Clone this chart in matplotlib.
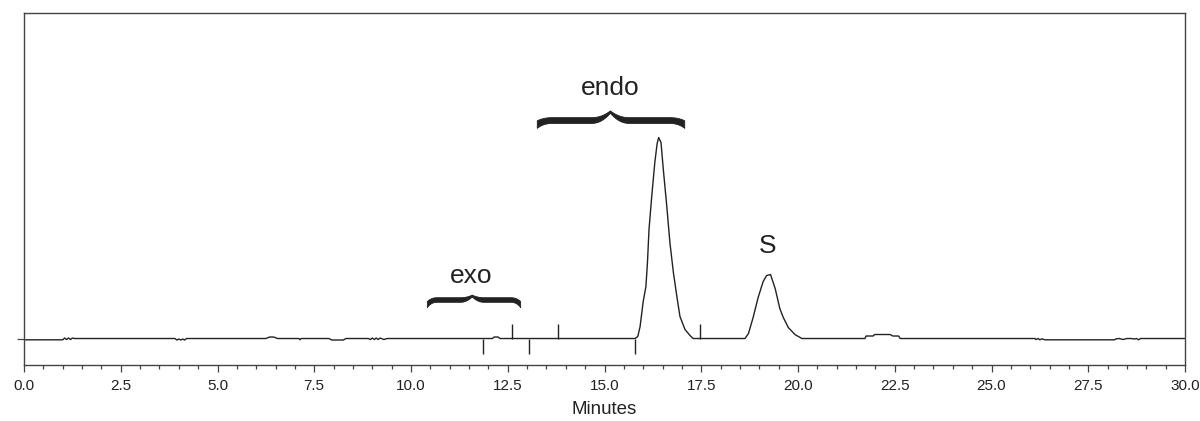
import numpy as np
import matplotlib
matplotlib.use("Agg")
import matplotlib.pyplot as plt
from matplotlib.ticker import MultipleLocator, FixedLocator

plt.rcParams["font.family"] = ["Liberation Sans", "DejaVu Sans"]

# chromatogram trace (minutes, signal above baseline)
time_min = [
    0.0, 1.0, 1.05, 1.1, 1.15, 1.2, 1.25, 1.3,
    3.9, 3.95, 4.0, 4.05, 4.1, 4.15, 4.2,
    6.25, 6.35, 6.45, 6.55,
    7.1, 7.13, 7.16,
    7.88, 7.95, 8.25, 8.32,
    8.9, 8.95, 9.0, 9.05, 9.1, 9.15, 9.2, 9.3, 9.38,
    12.1, 12.15, 12.25, 12.3,
    15.79, 15.86, 15.92, 16.00, 16.07, 16.11, 16.15, 16.22, 16.30, 16.36, 16.40,
    16.46, 16.52, 16.61, 16.69, 16.78, 16.87, 16.95, 17.08, 17.21, 17.29,
    18.63, 18.72, 18.84, 18.97, 19.10, 19.19, 19.29, 19.41, 19.53, 19.62,
    19.75, 19.92, 20.10,
    21.73, 21.76, 21.94, 21.98, 22.38, 22.45, 22.6, 22.64,
    26.12, 26.15, 26.2, 26.25, 26.3, 26.38, 28.18, 28.22, 28.3, 28.4, 28.5,
    28.6, 28.7, 28.75, 28.8, 28.85, 30.0,
]
signal = [
    -1.3, -1.3, 0.5, -1.0, 0.5, -1.0, 0.5, 0.0,
    0.0, -1.5, -0.5, -1.5, -0.5, -1.5, 0.0,
    0.0, 1.5, 1.5, 0.0,
    0.0, -1.2, 0.0,
    0.0, -1.5, -1.5, 0.0,
    0.0, -1.0, 0.5, -1.0, 0.5, -1.0, 0.5, -1.0, 0.0,
    0.0, 1.5, 1.5, 0.0,
    0.0, 2.0, 12.0, 37.0, 52.0, 76.0, 109.0, 142.0, 176.0, 195.0, 201.0,
    196.0, 169.0, 132.0, 96.0, 66.0, 42.0, 22.0, 9.0, 3.0, 0.0,
    0.0, 5.0, 21.0, 41.0, 57.0, 63.0, 64.0, 50.0, 30.0, 21.0,
    11.0, 4.0, 0.0,
    0.0, 2.5, 2.5, 4.0, 4.0, 2.5, 2.5, 0.0,
    0.0, -1.0, 0.0, -1.3, -0.3, -1.3, -1.3, -0.3, 0.0, -1.0, 0.0,
    0.0, -0.5, 0.0, -1.3, 0.0, 0.0,
]

# integration event marks
mark_down = [11.85, 13.04, 15.79]
mark_up = [12.62, 13.79, 17.47]
MARK_LEN = 15

INK = "#222222"


def brace(ax, x0, x1, xc, y_arm, y_tip, y_cusp, thick):
    # horizontal curly brace drawn as a filled band of varying width
    xs = np.linspace(x0, x1, 600)
    span = x1 - x0
    d_end = np.minimum(xs - x0, x1 - xs) / span
    e = np.clip(1 - d_end / 0.11, 0, 1) ** 2.5
    c = np.clip(1 - np.abs(xs - xc) / (0.13 * span), 0, 1) ** 2.2
    yc = y_arm + (y_tip - y_arm) * e + (y_cusp - y_arm) * c
    w = thick * (1 - 0.6 * c) * (1 + 0.3 * e)
    ax.fill_between(xs, yc - w / 2, yc + w / 2, color=INK, lw=0.6, ec=INK)


fig = plt.figure(figsize=(12, 4.21), dpi=100)
ax = fig.add_axes([0.02, 0.133, 0.9675, 0.836])

ax.plot(time_min, signal, color=INK, lw=1.0)
ax.vlines(mark_down, -MARK_LEN, 0, color=INK, lw=1.0)
ax.vlines(mark_up, 0, MARK_LEN, color=INK, lw=1.0)

brace(ax, 10.41, 12.82, 11.57, 39.0, 34.5, 43.0, 4.6)
brace(ax, 13.25, 17.06, 15.14, 218.5, 214.5, 227.0, 5.8)

ax.text(11.55, 55.8, "exo", ha="center", va="baseline", fontsize=19, color=INK)
ax.text(15.14, 244.0, "endo", ha="center", va="baseline", fontsize=19, color=INK)
ax.text(19.22, 86.0, "S", ha="center", va="baseline", fontsize=19, color=INK)

ax.set_xlim(0, 30)
ax.set_ylim(-26.5, 325.5)
ax.xaxis.set_major_locator(MultipleLocator(2.5))
ax.xaxis.set_minor_locator(MultipleLocator(0.5))
ax.xaxis.set_major_formatter(matplotlib.ticker.FormatStrFormatter("%.1f"))
ax.yaxis.set_major_locator(FixedLocator([0]))
ax.set_yticklabels([])
ax.tick_params(axis="x", which="major", length=4.8, width=0.9, color="#444444",
               labelsize=11, labelcolor=INK, pad=5)
ax.tick_params(axis="x", which="minor", length=2.9, width=0.9, color="#444444")
ax.tick_params(axis="y", which="major", length=5, width=0.9, color="#444444")
ax.set_xlabel("Minutes", fontsize=13.5, color=INK, labelpad=6)
for s in ax.spines.values():
    s.set_color("#444444")
    s.set_linewidth(1.0)

fig.savefig("out.png", dpi=100)
